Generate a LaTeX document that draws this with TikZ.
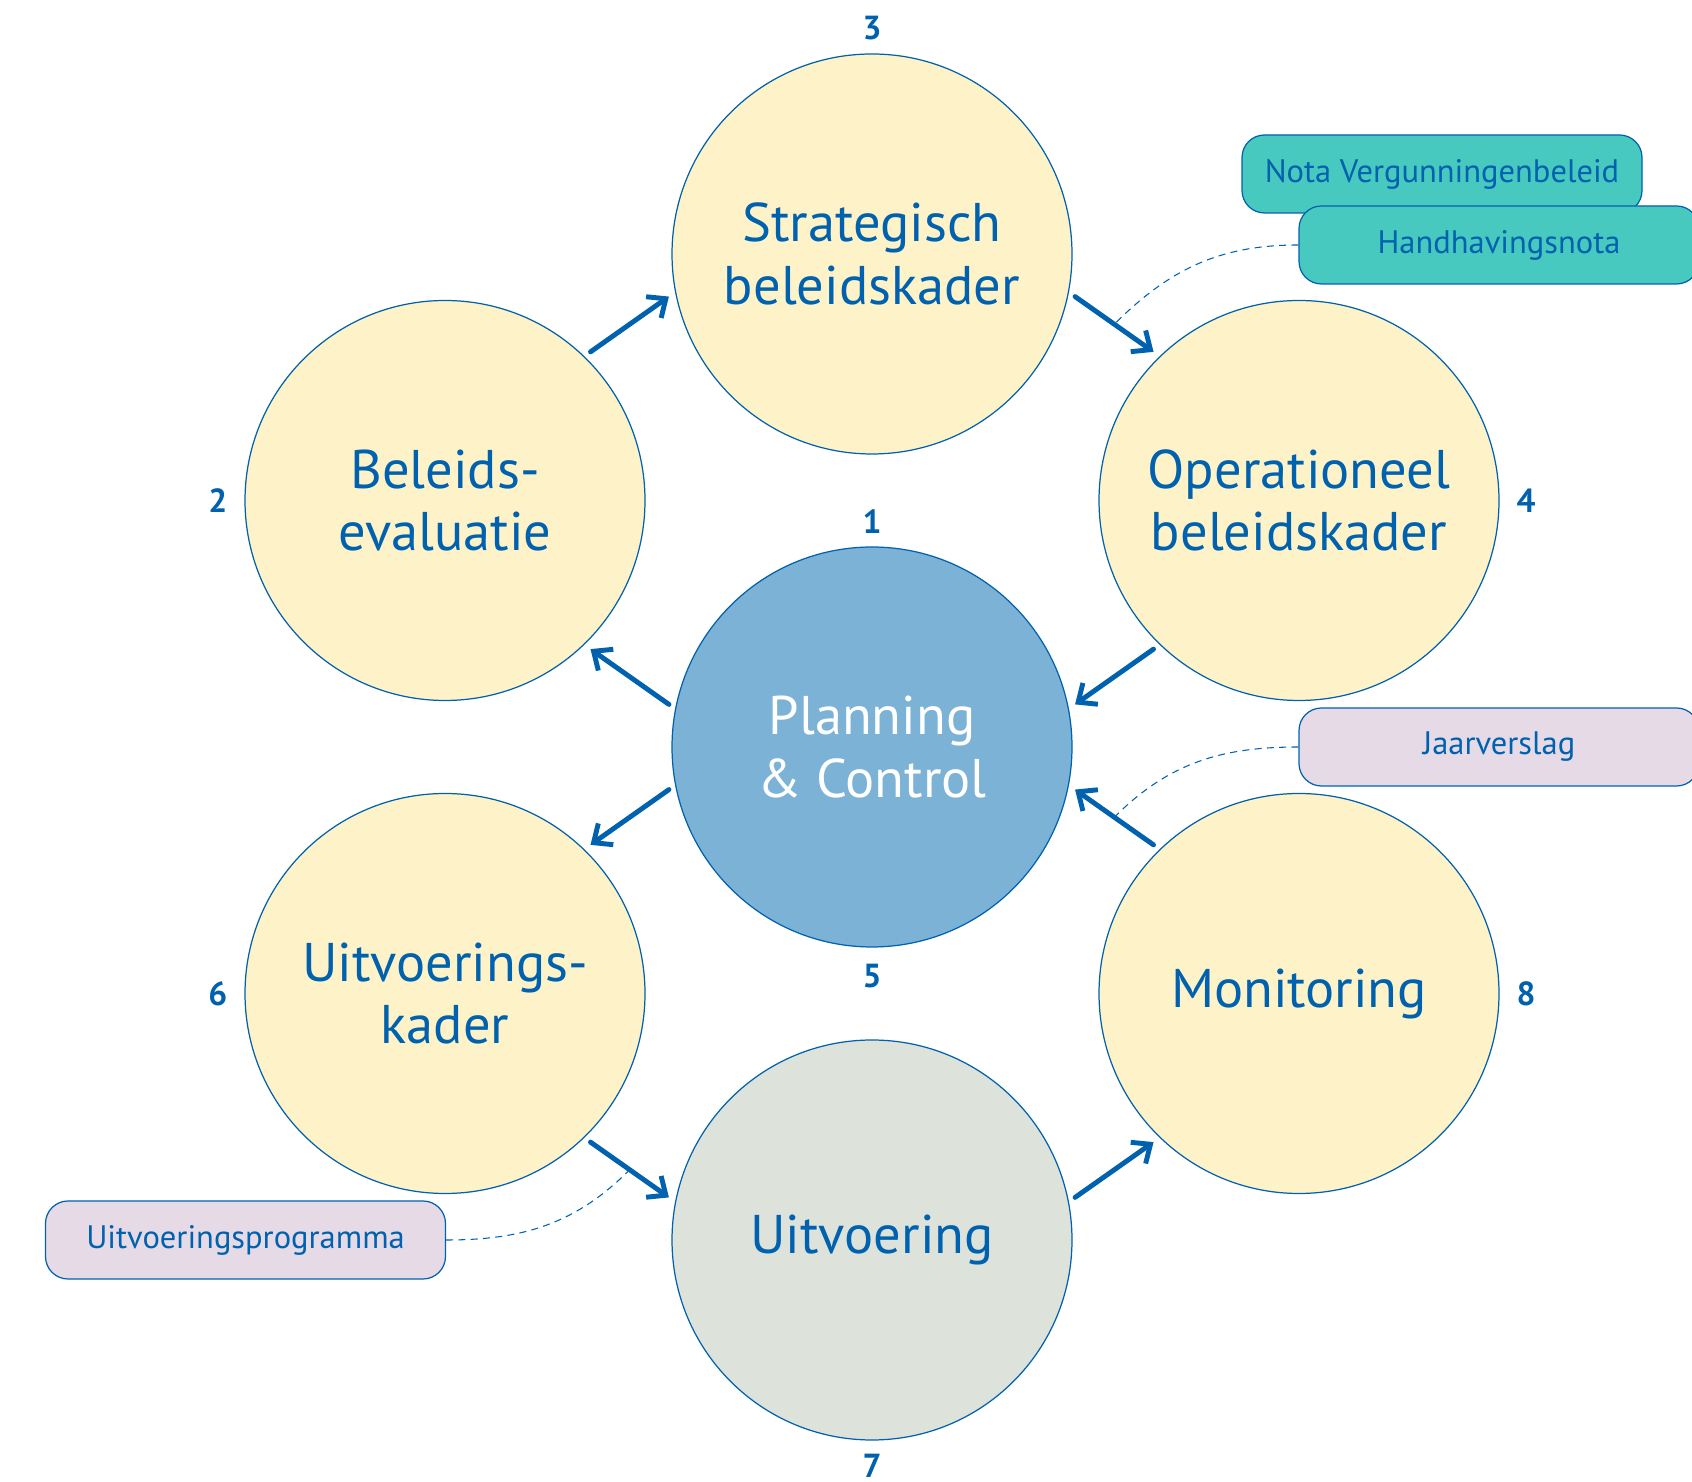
\documentclass[tikz,border=0pt]{standalone}
\usepackage{fontspec}
\setmainfont{PT Sans}
\usetikzlibrary{arrows.meta}
\definecolor{pcblue}{HTML}{0061AE}
\definecolor{phase}{HTML}{FEF3C8}
\definecolor{core}{HTML}{7BB2D6}
\definecolor{exec}{HTML}{DDE3DB}
\definecolor{notegreen}{HTML}{48C9C0}
\definecolor{notelila}{HTML}{E6DAE7}
\begin{document}
\begin{tikzpicture}[
  circ/.style={circle, draw=pcblue, line width=0.7pt, minimum size=8cm, inner sep=0pt, align=center, text=pcblue, font=\fontsize{31}{35.6}\selectfont},
  tag/.style={draw=pcblue, line width=0.7pt, rounded corners=0.45cm, minimum width=8cm, minimum height=1.56cm, text=pcblue, font=\fontsize{18.5}{21}\selectfont},
  num/.style={text=pcblue, anchor=center, inner sep=0pt, font=\fontsize{19}{21}\selectfont\bfseries},
  flow/.style={-{Straight Barb[length=0.3cm, width=0.52cm]}, draw=pcblue, line width=2.8pt, line cap=round, shorten <=0.15cm, shorten >=0.15cm},
  link/.style={draw=pcblue, line width=0.6pt, dash pattern=on 4pt off 3pt}
]
  \useasboundingbox (0,0) rectangle (33.84,29.62);
  \node[circ, fill=core, text=white] (pc) at (17.44,14.68) {Planning\\\& Control};
  \node[circ, fill=phase] (strat) at (17.44,24.54) {Strategisch\\beleidskader};
  \node[circ, fill=phase] (eval) at (8.90,19.61) {Beleids-\\evaluatie};
  \node[circ, fill=phase] (oper) at (25.98,19.61) {Operationeel\\beleidskader};
  \node[circ, fill=phase] (kader) at (8.90,9.75) {Uitvoerings-\\kader};
  \node[circ, fill=phase] (monit) at (25.98,9.75) {Monitoring};
  \node[circ, fill=exec] (uitv) at (17.44,4.82) {Uitvoering};

  \node[num] (n1) at ([yshift=0.5cm]pc.north) {1};
  \node[num] (n2) at ([xshift=-0.53cm]eval.west) {2};
  \node[num] (n3) at ([yshift=0.5cm]strat.north) {3};
  \node[num] (n4) at ([xshift=0.53cm]oper.east) {4};
  \node[num] (n5) at ([yshift=-0.56cm]pc.south) {5};
  \node[num] (n6) at ([xshift=-0.53cm]kader.west) {6};
  \node[num] (n7) at ([yshift=-0.5cm]uitv.south) {7};
  \node[num] (n8) at ([xshift=0.53cm]monit.east) {8};

  \node[tag, fill=notegreen] (nota) at (28.84,26.14) {Nota Vergunningenbeleid};
  \node[tag, fill=notegreen] (hand) at (29.98,24.72) {Handhavingsnota};
  \node[tag, fill=notelila] (jaar) at (29.98,14.68) {Jaarverslag};
  \node[tag, fill=notelila] (prog) at (4.91,4.82) {Uitvoeringsprogramma};

  \draw[flow] (eval.46) -- (strat.191);
  \draw[flow] (strat.-11) -- coordinate (m2) (oper.134);
  \draw[flow] (oper.226) -- (pc.11);
  \draw[flow] (pc.169) -- (eval.-46);
  \draw[flow] (pc.191) -- (kader.46);
  \draw[flow] (kader.-46) -- coordinate (m6) (uitv.169);
  \draw[flow] (uitv.11) -- (monit.226);
  \draw[flow] (monit.134) -- coordinate (m8) (pc.-11);

  \draw[link] (hand.west) to[out=180, in=45] (m2);
  \draw[link] (jaar.west) to[out=180, in=45] (m8);
  \draw[link] (prog.east) to[out=0, in=225] (m6);
\end{tikzpicture}
\end{document}
